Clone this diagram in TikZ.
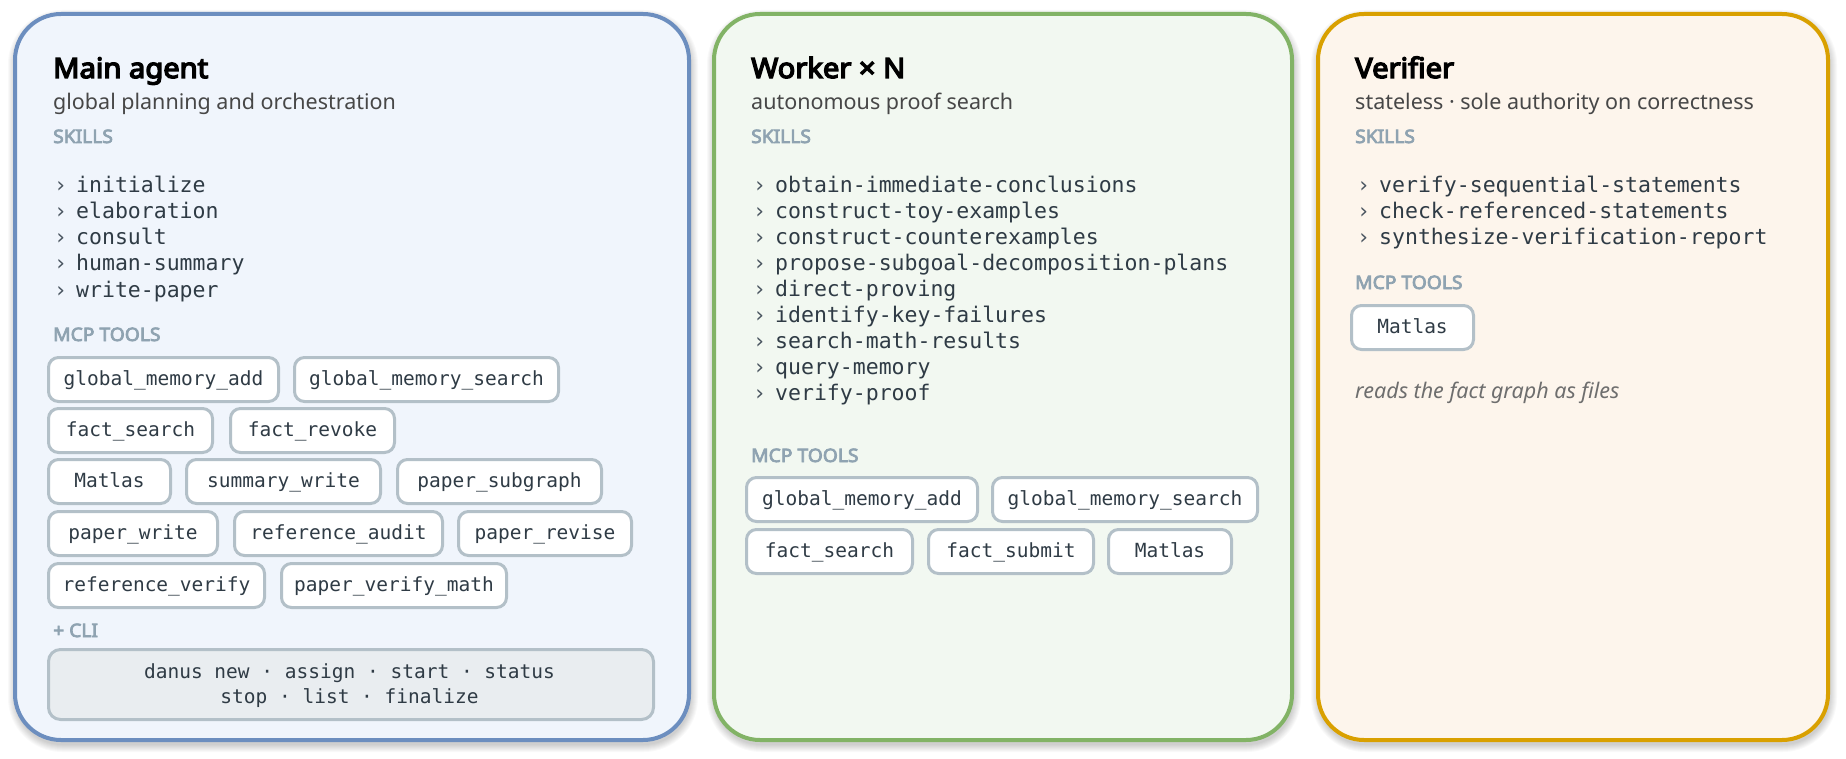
\documentclass[tikz,border=0pt]{standalone}
\usepackage{fontspec}
\setmainfont{Noto Sans}
\setmonofont{DejaVu Sans Mono}
\newfontfamily\ttlsans{Noto Sans}[FakeBold=5,FakeStretch=1.04]
\newfontfamily\labsans{Noto Sans}[FakeBold=4,FakeStretch=1.04]
\definecolor{mainS}{HTML}{6C8EBF}
\definecolor{mainF}{HTML}{F0F5FC}
\definecolor{workS}{HTML}{82B366}
\definecolor{workF}{HTML}{F2F8F1}
\definecolor{verS}{HTML}{D9A000}
\definecolor{verF}{HTML}{FDF5EC}
\definecolor{lbl}{HTML}{8FA3B1}
\definecolor{subc}{HTML}{474747}
\definecolor{codec}{HTML}{2F3B45}
\definecolor{arrc}{HTML}{4A5560}
\definecolor{pillS}{HTML}{B3C0C8}
\definecolor{cliF}{HTML}{E9EDF0}
\definecolor{notec}{HTML}{6E6E6E}
\newcommand\pshadow[4]{%
  \foreach \s in {1,...,8}{%
    \fill[black,opacity=0.022,rounded corners={46+\s}] ({#1+3-\s},{#2+6-\s}) rectangle ({#3+3+\s},{#4+6+\s});}}
\tikzset{
  panel/.style={line width=4pt, rounded corners=46pt, anchor=north west, inner sep=0pt},
  ttl/.style={anchor=base west, inner sep=0pt, font=\fontsize{28}{34}\ttlsans, text=black},
  subt/.style={anchor=base west, inner sep=0pt, font=\fontsize{21.5}{26}\selectfont, text=subc},
  lab/.style={anchor=base west, inner sep=0pt, font=\fontsize{18.5}{22}\labsans, text=lbl},
  skl/.style={anchor=base west, inner sep=0pt, font=\fontsize{21.5}{26}\ttfamily, text=codec},
  arrw/.style={anchor=base west, inner sep=0pt, font=\fontsize{21.5}{26}\ttfamily, text=arrc},
  pill/.style={draw=pillS, line width=3pt, fill=white, rounded corners=10pt, anchor=north west,
    minimum height=44pt, inner sep=0pt, text height=15pt, text depth=3pt,
    font=\fontsize{19.5}{23}\ttfamily, text=codec},
  clitxt/.style={anchor=base, inner sep=0pt, font=\fontsize{19.5}{23}\ttfamily, text=codec},
  notet/.style={anchor=base west, inner sep=0pt, font=\fontsize{21.5}{26}\selectfont\itshape, text=notec},
}
\begin{document}
\begin{tikzpicture}[x=1pt,y=-1pt]
\useasboundingbox (0,0) rectangle (1846,759);
\fill[white] (0,0) rectangle (1846,759);
% shadows
\pshadow{13}{12}{687}{738}
\pshadow{712}{12}{1290}{738}
\pshadow{1316}{12}{1826}{738}
% panels
\node[panel, draw=mainS, fill=mainF, minimum width=674pt, minimum height=726pt] (main) at (13,12) {};
\node[panel, draw=workS, fill=workF, minimum width=578pt, minimum height=726pt] (work) at (712,12) {};
\node[panel, draw=verS, fill=verF, minimum width=510pt, minimum height=726pt] (ver) at (1316,12) {};

% ---------- Main agent ----------
\node[ttl] (mT) at (53,78) {Main agent};
\node[subt] (mS) at (53,110) {global planning and orchestration};
\node[lab] (mL1) at (53,143) {SKILLS};
\foreach \t [count=\i from 0] in {initialize, elaboration, consult, human-summary, write-paper}{
  \node[arrw] (ma\i) at (54,{193+26*\i}) {›};
  \node[skl] (ms\i) at (76,{193+26*\i}) {\t};
}
\node[lab] (mL2) at (53,341) {MCP TOOLS};
\node[pill, minimum width=230pt] (mp1) at (47,356) {global\_memory\_add};
\node[pill, minimum width=264pt] (mp2) at (293,356) {global\_memory\_search};
\node[pill, minimum width=164pt] (mp3) at (47,407) {fact\_search};
\node[pill, minimum width=164pt] (mp4) at (229,407) {fact\_revoke};
\node[pill, minimum width=122pt] (mp5) at (47,458) {Matlas};
\node[pill, minimum width=194pt] (mp6) at (185,458) {summary\_write};
\node[pill, minimum width=204pt] (mp7) at (396,458) {paper\_subgraph};
\node[pill, minimum width=169pt] (mp8) at (47,510) {paper\_write};
\node[pill, minimum width=208pt] (mp9) at (233,510) {reference\_audit};
\node[pill, minimum width=173pt] (mp10) at (457,510) {paper\_revise};
\node[pill, minimum width=216pt] (mp11) at (47,562) {reference\_verify};
\node[pill, minimum width=225pt] (mp12) at (280,562) {paper\_verify\_math};
\node[lab] (mL3) at (53,637) {+ CLI};
\node[draw=pillS, line width=3pt, fill=cliF, rounded corners=12pt, anchor=north west,
  minimum width=605pt, minimum height=70pt, inner sep=0pt] (cli) at (47,648) {};
\node[clitxt] (cli1) at (349.5,678) {danus new · assign · start · status};
\node[clitxt] (cli2) at (349.5,703) {stop · list · finalize};

% ---------- Worker ----------
\node[ttl] (wT) at (751,78) {Worker × N};
\node[subt] (wS) at (751,110) {autonomous proof search};
\node[lab] (wL1) at (751,143) {SKILLS};
\foreach \t [count=\i from 0] in {obtain-immediate-conclusions, construct-toy-examples, construct-counterexamples, propose-subgoal-decomposition-plans, direct-proving, identify-key-failures, search-math-results, query-memory, verify-proof}{
  \node[arrw] (wa\i) at (753,{193+25.875*\i}) {›};
  \node[skl] (ws\i) at (775,{193+25.875*\i}) {\t};
}
\node[lab] (wL2) at (751,462) {MCP TOOLS};
\node[pill, minimum width=231pt] (wp1) at (745,476) {global\_memory\_add};
\node[pill, minimum width=265pt] (wp2) at (991,476) {global\_memory\_search};
\node[pill, minimum width=166pt] (wp3) at (745,528) {fact\_search};
\node[pill, minimum width=165pt] (wp4) at (927,528) {fact\_submit};
\node[pill, minimum width=123pt] (wp5) at (1107,528) {Matlas};

% ---------- Verifier ----------
\node[ttl] (vT) at (1355,78) {Verifier};
\node[subt] (vS) at (1355,110) {stateless · sole authority on correctness};
\node[lab] (vL1) at (1355,143) {SKILLS};
\foreach \t [count=\i from 0] in {verify-sequential-statements, check-referenced-statements, synthesize-verification-report}{
  \node[arrw] (va\i) at (1357,{193+26*\i}) {›};
  \node[skl] (vs\i) at (1379,{193+26*\i}) {\t};
}
\node[lab] (vL2) at (1355,289) {MCP TOOLS};
\node[pill, minimum width=122pt] (vp1) at (1350,304) {Matlas};
\node[notet] (vN) at (1355,398) {reads the fact graph as files};
\end{tikzpicture}
\end{document}
